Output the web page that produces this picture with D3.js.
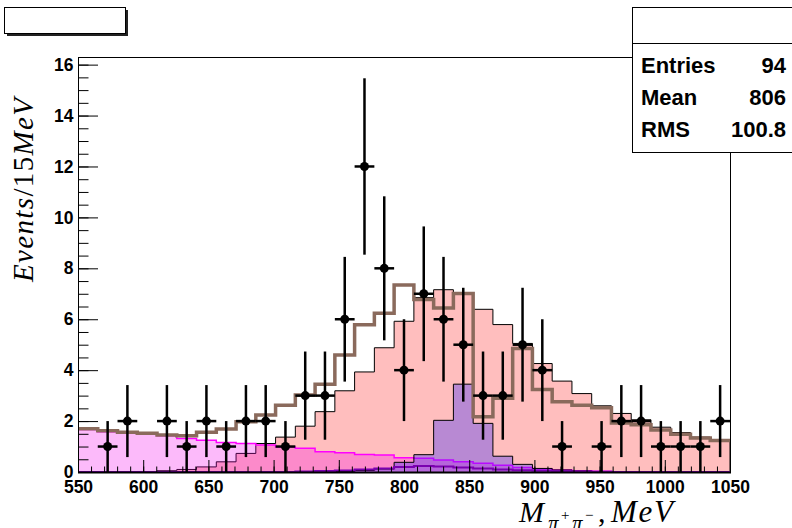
<!DOCTYPE html>
<meta charset="utf-8">
<style>
body { margin: 0; background: #fff; }
svg { display: block; }
.axis text { font: bold 17.5px "Liberation Sans", Arial, sans-serif; fill: #000; }
.axis path { display: none; }
.axis line { stroke: #000; }
.stats text { font: bold 22px "Liberation Sans", Arial, sans-serif; }
.mt { font-family: "Liberation Serif", "DejaVu Serif", serif; }
</style>
<body>
<script src="https://cdn.jsdelivr.net/npm/d3@7"></script>
<script>

// histogram binning: 33 bins from 550 to 1050 MeV
var xMin = 550, xMax = 1050, nBins = 33;

// data: events per bin
var counts = [0,1,2,0,2,1,2,1,2,2, 1,3,3,6,12,8,4,7,6,5, 3,3,5,4,1,0,1,2,2,1, 1,1,2];

// MC signal (red, dotted)
var signalMC = [0,0,0,0.02,0.05,0.1,0.2,0.4,0.73,1.12, 1.37,1.8,2.37,3.19,3.93,4.88,5.92,6.85,7.16,6.98,
                6.39,5.79,5.05,4.26,3.57,3.08,2.6,2.3,2.05,1.76, 1.55,1.37,1.25];

// background (magenta)
var bgMagenta = [1.67,1.58,1.52,1.49,1.42,1.32,1.25,1.16,1.12,1.06, 0.98,0.93,0.8,0.76,0.69,0.67,0.56,0.54,0.47,0.4,
                 0.34,0.27,0.18,0.12,0.08,0.05,0.03,0,0,0, 0,0,0];

// background (blue)
var bgBlue = [0,0,0,0,0,0,0,0,0,0, 0,0,0,0.02,0.06,0.12,0.38,0.68,2.03,3.45,
              1.91,0.62,0.3,0.14,0.08,0.04,0.02,0,0,0, 0,0,0];

// background (purple line)
var bgPurple = [0,0,0,0,0,0,0,0,0,0, 0,0.02,0.04,0.06,0.1,0.14,0.2,0.24,0.22,0.18,
                0.14,0.1,0.07,0.05,0.03,0.02,0.01,0,0,0, 0,0,0];

// total (brown line)
var total = [1.7,1.62,1.56,1.52,1.45,1.42,1.56,1.69,1.97,2.24, 2.62,3.02,3.45,4.6,5.78,6.24,7.34,6.78,6.44,7.01,
             2.17,2.9,4.85,3.24,2.76,2.62,2.52,1.92,1.86,1.65, 1.48,1.34,1.24];

var yTicks = [0,2,4,6,8,10,12,14,16];
var xTicks = [550,600,650,700,750,800,850,900,950,1000,1050];

var W = 792, H = 528;
var pLeft = 78, pRight = 730, pTop = 57, pBottom = 472;

var svg = d3.select("body").append("svg")
    .attr("width", W)
    .attr("height", H);

var x = d3.scaleLinear().domain([xMin, xMax]).range([pLeft, pRight]);
var y = d3.scaleLinear().domain([0, 16.3]).range([pBottom, pTop]);

var bw = (xMax - xMin) / nBins;
var edges = d3.range(nBins + 1).map(function(i) { return xMin + i * bw; });

var defs = svg.append("defs");
defs.append("clipPath").attr("id", "frame")
  .append("rect").attr("x", pLeft).attr("y", pTop)
  .attr("width", pRight - pLeft).attr("height", pBottom - pTop);

function stepPts(vals, closed) {
  var pts = [];
  if (closed) pts.push([edges[0], 0]);
  vals.forEach(function(v, i) { pts.push([edges[i], v]); });
  pts.push([edges[nBins], vals[nBins - 1]]);
  if (closed) pts.push([edges[nBins], 0]);
  return pts;
}

var line = d3.line()
    .x(function(d) { return x(d[0]); })
    .y(function(d) { return y(d[1]); })
    .curve(d3.curveStepAfter);

var plot = svg.append("g").attr("clip-path", "url(#frame)");

function hist(vals, fill, stroke, sw) {
  plot.append("path").attr("d", line(stepPts(vals, true)))
      .attr("fill", fill).attr("stroke", stroke).attr("stroke-width", sw);
}

hist(signalMC, "rgba(255,30,30,0.29)", "#000", 1);
hist(bgMagenta, "rgba(245,0,235,0.27)", "#ff00ff", 1.5);
hist(bgBlue, "rgba(40,30,255,0.33)", "#000", 1);
hist(bgPurple, "none", "#7a00b0", 2);

// brown total
plot.append("path").attr("d", line(stepPts(total, false)))
    .attr("fill", "none")
    .attr("stroke", "#8a6a5c")
    .attr("stroke-width", 3.5);

// data points with errors
var pts = counts.map(function(c, i) { return {c: c, i: i}; })
  .filter(function(d) { return d.c > 0; });

var g = plot.selectAll(".pt").data(pts).enter().append("g").attr("class", "pt");
g.append("line")
  .attr("x1", function(d) { return x(edges[d.i] + bw / 2); })
  .attr("x2", function(d) { return x(edges[d.i] + bw / 2); })
  .attr("y1", function(d) { return y(d.c + Math.sqrt(d.c)); })
  .attr("y2", function(d) { return y(d.c - Math.sqrt(d.c)); })
  .attr("stroke", "#000").attr("stroke-width", 2.5);
g.append("line")
  .attr("x1", function(d) { return x(edges[d.i]); })
  .attr("x2", function(d) { return x(edges[d.i + 1]); })
  .attr("y1", function(d) { return y(d.c); })
  .attr("y2", function(d) { return y(d.c); })
  .attr("stroke", "#000").attr("stroke-width", 2.5);
g.append("circle")
  .attr("cx", function(d) { return x(edges[d.i] + bw / 2); })
  .attr("cy", function(d) { return y(d.c); })
  .attr("r", 4.5)
  .attr("fill", "#000");

// frame
svg.append("rect")
  .attr("x", pLeft + 0.5).attr("y", pTop + 0.5)
  .attr("width", pRight - pLeft).attr("height", pBottom - pTop)
  .attr("fill", "none").attr("stroke", "#000");
svg.append("line")
  .attr("x1", pLeft).attr("x2", pRight + 1)
  .attr("y1", pBottom + 0.5).attr("y2", pBottom + 0.5)
  .attr("stroke", "#000").attr("stroke-width", 2);

// y axis
svg.append("g").attr("class", "axis")
  .attr("transform", "translate(" + (pLeft + 0.5) + ",0)")
  .call(d3.axisLeft(y).tickValues(yTicks).tickSizeInner(-19.5).tickSizeOuter(0).tickPadding(5));
svg.append("g").attr("class", "axis")
  .attr("transform", "translate(" + (pLeft + 0.5) + ",0)")
  .call(d3.axisLeft(y).tickValues(d3.range(0, 16.01, 0.5)).tickSizeInner(-10).tickSizeOuter(0).tickFormat(""));

// x axis
svg.append("g").attr("class", "axis")
  .attr("transform", "translate(0," + (pBottom + 0.5) + ")")
  .call(d3.axisBottom(x).tickValues(xTicks).tickSizeInner(-12.5).tickSizeOuter(0)
        .tickPadding(8).tickFormat(d3.format("d")));
svg.append("g").attr("class", "axis")
  .attr("transform", "translate(0," + (pBottom + 0.5) + ")")
  .call(d3.axisBottom(x).tickValues(d3.range(550, 1050.1, 10)).tickSizeInner(-6).tickSizeOuter(0).tickFormat(""));

// y title
var yt = svg.append("text").attr("class", "mt")
  .attr("transform", "translate(33,190) rotate(-90)")
  .attr("text-anchor", "middle")
  .attr("textLength", 184)
  .attr("lengthAdjust", "spacing")
  .style("font-size", "29px");
yt.append("tspan").style("font-style", "italic").text("Events");
yt.append("tspan").text("/15");
yt.append("tspan").style("font-style", "italic").text("MeV");

// x title
var xt = svg.append("g").attr("class", "mt").style("font-style", "italic");
xt.append("text").attr("x", 519).attr("y", 522).style("font-size", "30px").text("M");
xt.append("text").attr("x", 548).attr("y", 530).style("font-size", "21px").text("\u03c0");
xt.append("text").attr("x", 561).attr("y", 520).style("font-size", "15px").style("font-style", "normal").text("+");
xt.append("text").attr("x", 572).attr("y", 530).style("font-size", "21px").text("\u03c0");
xt.append("text").attr("x", 585).attr("y", 520).style("font-size", "15px").style("font-style", "normal").text("\u2212");
xt.append("text").attr("x", 598).attr("y", 522).style("font-size", "30px").style("font-style", "normal").text(",");
xt.append("text").attr("x", 611).attr("y", 522).style("font-size", "31px")
  .attr("textLength", 62).attr("lengthAdjust", "spacing").text("MeV");

// title box
svg.append("rect").attr("x", 7).attr("y", 10).attr("width", 121).attr("height", 26).attr("fill", "#222");
svg.append("rect").attr("x", 4.5).attr("y", 7.5).attr("width", 121).attr("height", 26)
  .attr("fill", "#fff").attr("stroke", "#000");

// stats box
var st = svg.append("g").attr("class", "stats");
st.append("rect").attr("x", 632.5).attr("y", 7.5).attr("width", 170).attr("height", 145)
  .attr("fill", "#fff").attr("stroke", "#000");
st.append("line").attr("x1", 632).attr("x2", 800).attr("y1", 43.5).attr("y2", 43.5).attr("stroke", "#000");
var statNames = ["Entries", "Mean", "RMS"];
var statVals = ["94", "806", "100.8"];
statNames.forEach(function(n, i) {
  st.append("text").attr("x", 641).attr("y", 73 + i * 32).text(n);
  st.append("text").attr("x", 786).attr("y", 73 + i * 32).attr("text-anchor", "end").text(statVals[i]);
});

</script>
</body>
